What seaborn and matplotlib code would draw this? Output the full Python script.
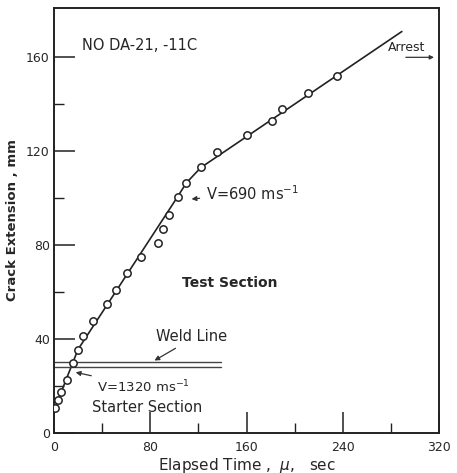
import seaborn as sns
import matplotlib.pyplot as plt
import pandas as pd

# measured points (elapsed time in microsec, crack extension in mm)
time_us = [0.8, 3.3, 5.8, 10.8, 15.8, 20.0, 24.1, 32.4, 44.1, 51.5, 60.7, 72.3,
           86.5, 90.6, 95.6, 103.1, 109.7, 122.2, 135.5, 160.4, 181.2, 189.5,
           211.1, 235.2]
crack_mm = [10.6, 14.0, 17.4, 22.6, 29.8, 35.3, 41.2, 47.5, 55.0, 61.0, 68.0, 75.0,
            80.9, 86.8, 92.8, 100.4, 106.4, 113.2, 119.6, 126.8, 132.8, 137.9,
            144.7, 151.9]

# fitted velocity line
fit_t = [0, 20, 103, 110, 122, 289]
fit_y = [9.5, 35.5, 100.8, 106.5, 113, 171]

# weld line position
weld_y = [28.1, 30.2]
weld_end = 139

df = pd.DataFrame({'t': time_us, 'y': crack_mm})
fit = pd.DataFrame({'t': fit_t, 'y': fit_y})

sns.set_style("ticks")
plt.rcParams['font.family'] = ['DejaVu Sans']

fig = plt.figure(figsize=(4.57, 4.73), dpi=100)
ax = fig.add_axes([0.118, 0.085, 0.843, 0.898])

sns.lineplot(data=fit, x='t', y='y', sort=False, color='#222222', linewidth=1.2, ax=ax)
sns.scatterplot(data=df, x='t', y='y', marker='o', s=28, facecolor='white',
                edgecolor='#222222', linewidth=1.1, ax=ax, zorder=3)

for wy in weld_y:
    ax.plot([0, weld_end], [wy, wy], color='#444444', linewidth=1.0)

ax.set_xlim(0, 320)
ax.set_ylim(0, 181)
ax.set_xticks([0, 80, 160, 240, 320])
ax.set_xticks([40, 120, 200, 280], minor=True)
ax.set_yticks([0, 40, 80, 120, 160])
ax.set_yticks([20, 60, 100, 140], minor=True)
ax.tick_params(which='major', direction='in', length=15, width=1.1, labelsize=9,
               color='#222222')
ax.tick_params(which='minor', direction='in', length=7, width=1.0, color='#222222')
ax.tick_params(axis='x', which='major', pad=6)
ax.tick_params(axis='y', which='major', pad=3)
for s in ax.spines.values():
    s.set_linewidth(1.4)
    s.set_color('#222222')

ax.set_xlabel(r'Elapsed Time ,  $\mu$,   sec', fontsize=11, labelpad=1)
ax.set_ylabel('Crack Extension , mm', fontsize=9.5, fontweight='bold', labelpad=5)

ax.text(23, 165, 'NO DA-21, -11C', fontsize=10.5, va='center')
ax.text(146, 64, 'Test Section', fontsize=10, fontweight='bold', ha='center', va='center')
ax.text(32, 10.6, 'Starter Section', fontsize=10.5, va='center')
ax.text(85, 41, 'Weld Line', fontsize=10.5, va='center')
ax.annotate('', xy=(81.5, 30.2), xytext=(103, 36.6),
            arrowprops=dict(arrowstyle='-|>', color='#333333', lw=0.9, mutation_scale=7))
ax.annotate(r'V=1320 ms$^{-1}$', xy=(15.8, 26), xytext=(36, 19.5), fontsize=9.5, va='center',
            arrowprops=dict(arrowstyle='-|>', color='#333333', lw=0.9, mutation_scale=7))
ax.annotate(r'V=690 ms$^{-1}$', xy=(112, 99.5), xytext=(126, 102), fontsize=10.5, va='center',
            arrowprops=dict(arrowstyle='-|>', color='#333333', lw=0.9, mutation_scale=7))
ax.text(277, 164, 'Arrest', fontsize=9, va='center')
ax.annotate('', xy=(318, 160), xytext=(290, 160),
            arrowprops=dict(arrowstyle='-|>', color='#333333', lw=0.9, mutation_scale=6))

fig.savefig('out.png', dpi=100)
